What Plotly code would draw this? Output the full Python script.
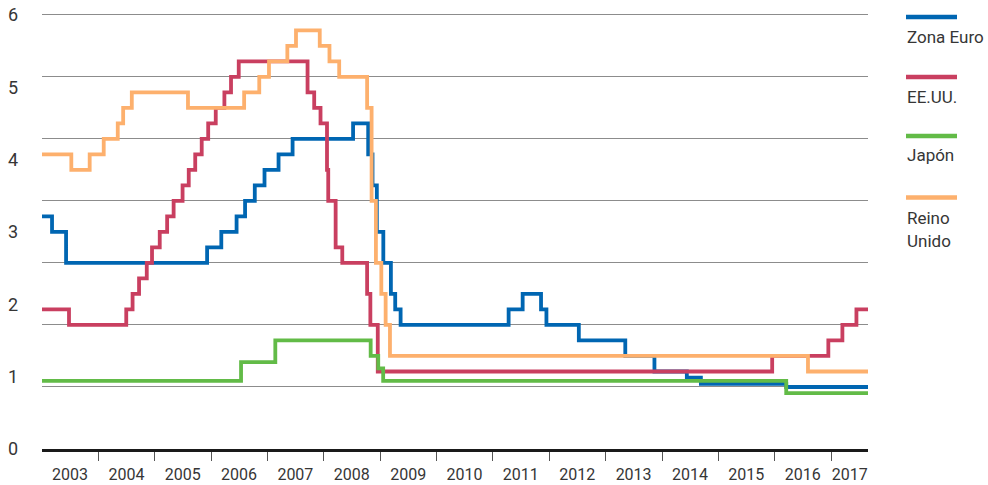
import plotly.graph_objects as go

# ---------------- data (policy rates, %) ----------------
euro_dates = ["2003-01-01", "2003-03-07", "2003-06-06", "2005-12-06", "2006-03-08", "2006-06-15",
              "2006-08-09", "2006-10-11", "2006-12-13", "2007-03-14", "2007-06-13", "2008-07-09",
              "2008-10-15", "2008-11-12", "2008-12-10", "2009-01-21", "2009-03-11", "2009-04-08",
              "2009-05-13", "2011-04-13", "2011-07-13", "2011-11-09", "2011-12-14", "2012-07-11",
              "2013-05-08", "2013-11-13", "2014-06-11", "2014-09-10", "2016-03-16", "2017-08-31"]
euro_rates = [2.75, 2.50, 2.00, 2.25, 2.50, 2.75, 3.00, 3.25, 3.50, 3.75, 4.00, 4.25,
              3.75, 3.25, 2.50, 2.00, 1.50, 1.25, 1.00, 1.25, 1.50, 1.25, 1.00, 0.75,
              0.50, 0.25, 0.15, 0.05, 0.00, 0.00]

us_dates = ["2003-01-01", "2003-06-25", "2004-06-30", "2004-08-10", "2004-09-21", "2004-11-10",
            "2004-12-14", "2005-02-02", "2005-03-22", "2005-05-03", "2005-06-30", "2005-08-09",
            "2005-09-20", "2005-11-01", "2005-12-13", "2006-01-31", "2006-03-28", "2006-05-10",
            "2006-06-29", "2007-09-18", "2007-10-31", "2007-12-11", "2008-01-22", "2008-01-30",
            "2008-03-18", "2008-04-30", "2008-10-08", "2008-10-29", "2008-12-16", "2015-12-16",
            "2016-12-14", "2017-03-15", "2017-06-14", "2017-08-31"]
us_rates = [1.25, 1.00, 1.25, 1.50, 1.75, 2.00, 2.25, 2.50, 2.75, 3.00, 3.25, 3.50,
            3.75, 4.00, 4.25, 4.50, 4.75, 5.00, 5.25, 4.75, 4.50, 4.25, 3.50, 3.00,
            2.25, 2.00, 1.50, 1.00, 0.25, 0.50, 0.75, 1.00, 1.25, 1.25]

jp_dates = ["2003-01-01", "2006-07-14", "2007-02-21", "2008-10-31", "2008-12-19",
            "2009-01-20", "2016-03-16", "2017-08-31"]
jp_rates = [0.10, 0.40, 0.75, 0.50, 0.30, 0.10, -0.10, -0.10]

uk_dates = ["2003-01-01", "2003-07-10", "2003-11-06", "2004-02-05", "2004-05-06", "2004-06-10",
            "2004-08-05", "2005-08-04", "2006-08-03", "2006-11-09", "2007-01-11", "2007-05-10",
            "2007-07-05", "2007-12-06", "2008-02-07", "2008-04-10", "2008-10-08", "2008-11-06",
            "2008-12-04", "2009-01-08", "2009-02-05", "2009-03-05", "2016-08-04", "2017-08-31"]
uk_rates = [3.75, 3.50, 3.75, 4.00, 4.25, 4.50, 4.75, 4.50, 4.75, 5.00, 5.25, 5.50,
            5.75, 5.50, 5.25, 5.00, 4.50, 3.00, 2.00, 1.50, 1.00, 0.50, 0.25, 0.25]

series_names = ["Zona Euro", "EE.UU.", "Japón", "Reino Unido"]
legend_lines = [["Zona Euro"], ["EE.UU."], ["Japón"], ["Reino", "Unido"]]
colors = ["#0066b2", "#c93f60", "#62bb47", "#fdb06d"]

year_labels = [str(y) for y in range(2003, 2018)]
year_label_pos = [f"{y}-07-01" for y in range(2003, 2017)] + ["2017-05-01"]
year_boundaries = [f"{y}-01-01" for y in range(2004, 2018)]

y_tick_text = [str(k) for k in range(7)]
y_tick_pos = [-1 + 7 * k / 6 for k in range(7)]
y_grid = list(range(-1, 7))

X_START, X_END = "2003-01-01", "2017-08-28"
Y_MIN, Y_MAX = -1, 6.03

# ---------------- figure ----------------
W, H = 988, 485
ML, MR, MT, MB = 42, 120, 13, 36
PW, PH = W - ML - MR, H - MT - MB

fig = go.Figure()
for name, d, v, c in zip(series_names,
                         [euro_dates, us_dates, jp_dates, uk_dates],
                         [euro_rates, us_rates, jp_rates, uk_rates], colors):
    fig.add_trace(go.Scatter(x=d, y=v, mode="lines", name=name,
                             line=dict(color=c, width=3.8, shape="hv")))

FONT = "Roboto, Liberation Sans, sans-serif"
TXT = "#363636"

fig.update_layout(
    width=W, height=H,
    margin=dict(l=ML, r=MR, t=MT, b=MB, pad=0),
    paper_bgcolor="white", plot_bgcolor="white",
    showlegend=False,
    font=dict(family=FONT, color=TXT),
    xaxis=dict(
        type="date", range=[X_START, X_END], automargin=False,
        tickmode="array", tickvals=year_label_pos, ticktext=year_labels,
        ticks="", showgrid=False, zeroline=False,
        tickfont=dict(size=16, color=TXT, family=FONT),
        ticklabelstandoff=9,
        showline=True, linecolor="#1a1a1a", linewidth=2.5,
        minor=dict(tickmode="array", tickvals=year_boundaries, ticks="outside",
                   ticklen=9, tickwidth=1, tickcolor="#555", showgrid=False),
    ),
    yaxis=dict(
        range=[Y_MIN, Y_MAX], automargin=False,
        tickmode="array", tickvals=y_tick_pos, ticktext=y_tick_text,
        ticks="", showgrid=False, zeroline=False, showline=False,
        tickfont=dict(size=18, color=TXT, family=FONT),
        ticklabelstandoff=23,
        minor=dict(tickmode="array", tickvals=y_grid, showgrid=True,
                   gridcolor="#8c8c8c", gridwidth=1, ticks=""),
    ),
)

# ---------------- custom legend ----------------
def px_x(px):
    return (px - ML) / PW

def px_y(py):
    return 1 - (py - MT) / PH

bar_y = [17, 77, 136, 197.5]
text_y = [[37], [97], [155], [218, 241]]
for c, by, lines, tys in zip(colors, bar_y, legend_lines, text_y):
    fig.add_shape(type="line", xref="paper", yref="paper",
                  x0=px_x(906), x1=px_x(957), y0=px_y(by), y1=px_y(by),
                  line=dict(color=c, width=4.5))
    for t, ty in zip(lines, tys):
        fig.add_annotation(text=t, xref="paper", yref="paper",
                           x=px_x(905), y=px_y(ty), xanchor="left", yanchor="middle",
                           showarrow=False, font=dict(size=17, color=TXT, family=FONT))

# remove the browser's default page margin so the figure fills the window exactly
fig.write_html("out.html", config={"displayModeBar": False},
               post_script="document.body.style.margin='0';")
